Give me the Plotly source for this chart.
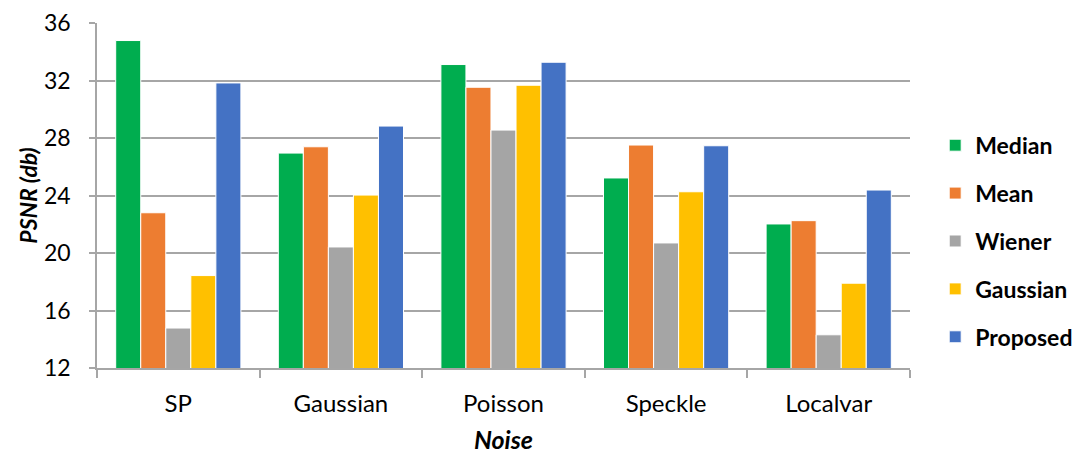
import plotly.graph_objects as go

categories = ["SP", "Gaussian", "Poisson", "Speckle", "Localvar"]
series_names = ["Median", "Mean", "Wiener", "Gaussian", "Proposed"]
median = [34.78, 26.95, 33.11, 25.22, 22.02]
mean = [22.8, 27.39, 31.53, 27.51, 22.25]
wiener = [14.78, 20.42, 28.55, 20.70, 14.31]
gaussian = [18.43, 24.03, 31.67, 24.26, 17.9]
proposed = [31.83, 28.83, 33.27, 27.46, 24.38]
colors = ["#00AD4F", "#ED7D31", "#A5A5A5", "#FFC000", "#4472C4"]
y_ticks = [12, 16, 20, 24, 28, 32, 36]

FONT = "Lato, Open Sans, sans-serif"

fig = go.Figure()
for i, (name, vals) in enumerate(zip(series_names, [median, mean, wiener, gaussian, proposed])):
    fig.add_trace(go.Bar(
        x=categories, y=vals, name=name, legendgroup=name,
        marker=dict(color=colors[i], line=dict(color="white", width=1)),
    ))

fig.update_layout(
    width=1078, height=446,
    margin=dict(l=89, r=176, t=15, b=86, autoexpand=False),
    paper_bgcolor="white", plot_bgcolor="white",
    barmode="group", bargap=0.23, bargroupgap=0,
    font=dict(family=FONT, size=20, color="#000000"),
    legend=dict(
        x=1.031, y=0.708, xanchor="left", yanchor="top",
        font=dict(family=FONT, size=23, color="#000000", weight="bold"),
        tracegroupgap=15, itemwidth=30,
    ),
    xaxis=dict(
        automargin=False,
        showline=True, linecolor="#A6A6A6", linewidth=1.5,
        ticks="outside", tickson="boundaries", ticklen=8, tickcolor="#A6A6A6", tickwidth=1.5,
        tickfont=dict(family=FONT, size=24, color="#000000"),
        ticklabelstandoff=13,
        title=dict(text="<b><i>Noise</i></b>", font=dict(family=FONT, size=25), standoff=17),
    ),
    yaxis=dict(
        automargin=False,
        range=[12, 36], tickvals=y_ticks,
        showline=True, linecolor="#A6A6A6", linewidth=1.5,
        showgrid=True, gridcolor="#A6A6A6", gridwidth=1.5,
        ticks="outside", ticklen=6, tickcolor="#A6A6A6", tickwidth=1.5,
        tickfont=dict(family=FONT, size=23, color="#000000"),
        ticklabelstandoff=14,
        zeroline=False,
        title=dict(text="<b><i>PSNR (db)</i></b>", font=dict(family=FONT, size=23), standoff=0),
    ),
)

fig.write_html("out.html")
